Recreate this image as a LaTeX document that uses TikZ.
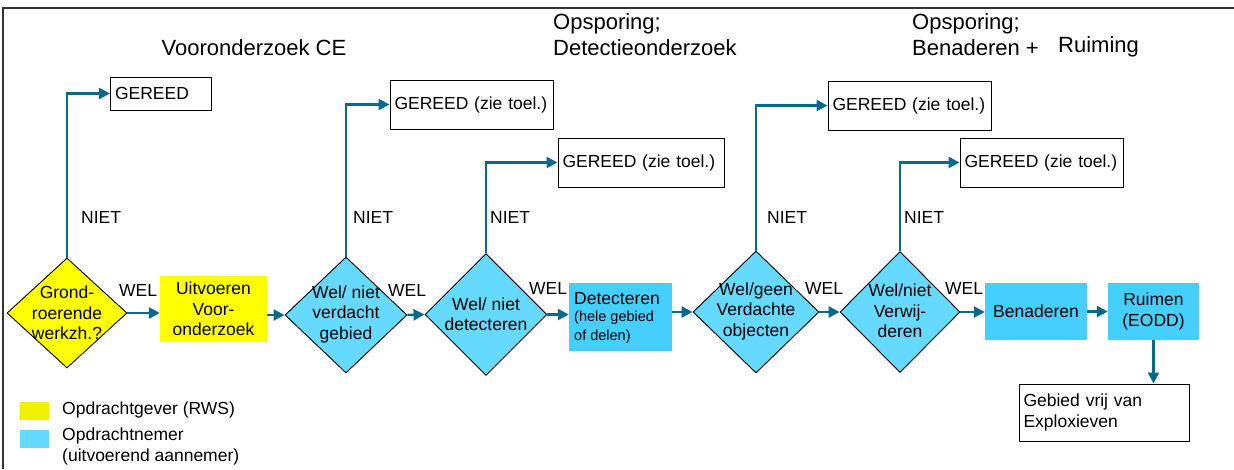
\documentclass[tikz,border=0pt]{standalone}
\usepackage{fontspec}
\setmainfont{Liberation Sans}
\usetikzlibrary{shapes.geometric,arrows.meta}
\definecolor{conncol}{RGB}{10,104,138}
\definecolor{yel}{RGB}{255,255,0}
\definecolor{legyel}{RGB}{240,240,0}
\definecolor{cydia}{RGB}{102,217,255}
\definecolor{cybox}{RGB}{68,207,255}
\begin{document}
\begin{tikzpicture}[x=1pt,y=-1pt,
  txt/.style={font=\fontsize{17.5}{20.5}\selectfont, inner sep=0pt},
  small/.style={font=\fontsize{14.5}{19}\selectfont, inner sep=0pt, align=left},
  title/.style={font=\fontsize{22}{26}\selectfont, inner sep=0pt, align=left},
  dia/.style={diamond, draw=black, line width=0.9pt, inner sep=0pt},
  fbox/.style={txt, rectangle, draw=none, inner sep=0pt, align=center},
  gbox/.style={txt, rectangle, draw=black, line width=1pt, fill=white, inner xsep=4.5pt, inner ysep=0pt, align=left},
  conn/.style={draw=conncol, line width=2.5pt, -{Triangle[length=11pt,width=11pt]}},
  lab/.style={txt, anchor=west}]
\useasboundingbox (0,0) rectangle (1234,469);
% frame
\coordinate (fr1) at (1234,8);
\coordinate (fr2) at (3,8);
\coordinate (fr3) at (3,469);
\draw[line width=1.5pt, black!80] (fr1) -- (fr2) -- (fr3);

% titles
\node[title] (T1) at (254,48) {Vooronderzoek CE};
\node[title, anchor=west] (T2) at (553,35) {Opsporing;\\Detectieonderzoek};
\node[title, anchor=west] (T3) at (912,35) {Opsporing;\\Benaderen +};
\node[title, anchor=west] (T4) at (1058,47) {Ruiming};

% diamonds
\node[dia, fill=yel, minimum width=120, minimum height=110] (D1) at (67,313) {};
\node[txt, align=center] (D1t) at (67,313) {Grond-\\roerende\\werkzh.?};
\node[dia, fill=cydia, minimum width=122, minimum height=116] (D2) at (346,315) {};
\node[txt, align=center] (D2t) at (346,314) {Wel/ niet\\verdacht\\gebied};
\node[dia, fill=cydia, minimum width=122, minimum height=122] (D3) at (486,314.5) {};
\node[txt, align=center] (D3t) at (486,314) {Wel/ niet\\detecteren};
\node[dia, fill=cydia, minimum width=126, minimum height=122] (D4) at (756,312) {};
\node[txt, align=center] (D4t) at (756,311) {Wel/geen\\Verdachte\\objecten};
\node[dia, fill=cydia, minimum width=120, minimum height=121] (D5) at (900,312) {};
\node[txt, align=center] (D5t) at (900,311) {Wel/niet\\Verwij-\\deren};

% process boxes
\node[fbox, fill=yel, minimum width=107, minimum height=66] (B1) at (213.5,309) {Uitvoeren\\Voor-\\onderzoek};
\node[fbox, fill=cybox, minimum width=103, minimum height=68] (B2) at (620.5,317) {};
\node[txt, anchor=west] (B2a) at (574,299) {Detecteren};
\node[small, anchor=west] (B2b) at (574,327.5) {(hele gebied\\of delen)};
\node[fbox, fill=cybox, minimum width=102, minimum height=57] (B3) at (1036,311.5) {Benaderen};
\node[fbox, fill=cybox, minimum width=91, minimum height=57] (B4) at (1153.5,311.5) {Ruimen\\(EODD)};
\node[gbox, text width=161, minimum height=57] (G) at (1104,412.5) {Gebied vrij van\\Exploxieven};

% GEREED boxes
\node[gbox, text width=92, minimum height=33] (G1) at (161,93.5) {GEREED};
\node[gbox, text width=154, minimum height=49] (G2) at (471.5,104.5) {GEREED (zie toel.)};
\node[gbox, text width=157, minimum height=49] (G3) at (641,162.5) {GEREED (zie toel.)};
\node[gbox, text width=154, minimum height=49] (G4) at (909.5,105.5) {GEREED (zie toel.)};
\node[gbox, text width=154, minimum height=49] (G5) at (1041.5,162.5) {GEREED (zie toel.)};

% main flow
\draw[conn] (D1.east) -- (D1.east -| B1.west);
\draw[conn] (B1.east |- D2.west) -- (D2.west);
\draw[conn] (D2.east) -- (D3.west);
\draw[conn] (D3.east) -- (D3.east -| B2.west);
\draw[conn] (B2.east |- D4.west) -- (D4.west);
\draw[conn] (D4.east) -- (D5.west);
\draw[conn] (D5.east) -- (D5.east -| B3.west);
\draw[conn] (B3.east) -- (B4.west);
\draw[conn] (B4.south) -- (B4.south |- G.north);

% NIET branches
\draw[conn] (D1.north) |- (G1.west);
\draw[conn] (D2.north) |- (G2.west);
\draw[conn] (D3.north) |- (G3.west);
\draw[conn] (D4.north) |- (G4.west);
\draw[conn] (D5.north) |- (G5.west);

% labels
\node[lab] (W1) at (119,290) {WEL};
\node[lab] (W2) at (388,290) {WEL};
\node[lab] (W3) at (529,288) {WEL};
\node[lab] (W4) at (805,288) {WEL};
\node[lab] (W5) at (945,288) {WEL};
\node[lab] (N1) at (81,217) {NIET};
\node[lab] (N2) at (353,217) {NIET};
\node[lab] (N3) at (490,217) {NIET};
\node[lab] (N4) at (767,217) {NIET};
\node[lab] (N5) at (904,217) {NIET};

% legend
\node[rectangle, fill=legyel, minimum width=29, minimum height=18, inner sep=0pt] (L1) at (34,411) {};
\node[rectangle, fill=cydia, minimum width=29, minimum height=18, inner sep=0pt] (L2) at (34,439) {};
\node[lab] (L1t) at (62,410) {Opdrachtgever (RWS)};
\node[txt, anchor=north west, align=left] (L2t) at (62,428) {Opdrachtnemer\\(uitvoerend aannemer)};
\end{tikzpicture}
\end{document}
